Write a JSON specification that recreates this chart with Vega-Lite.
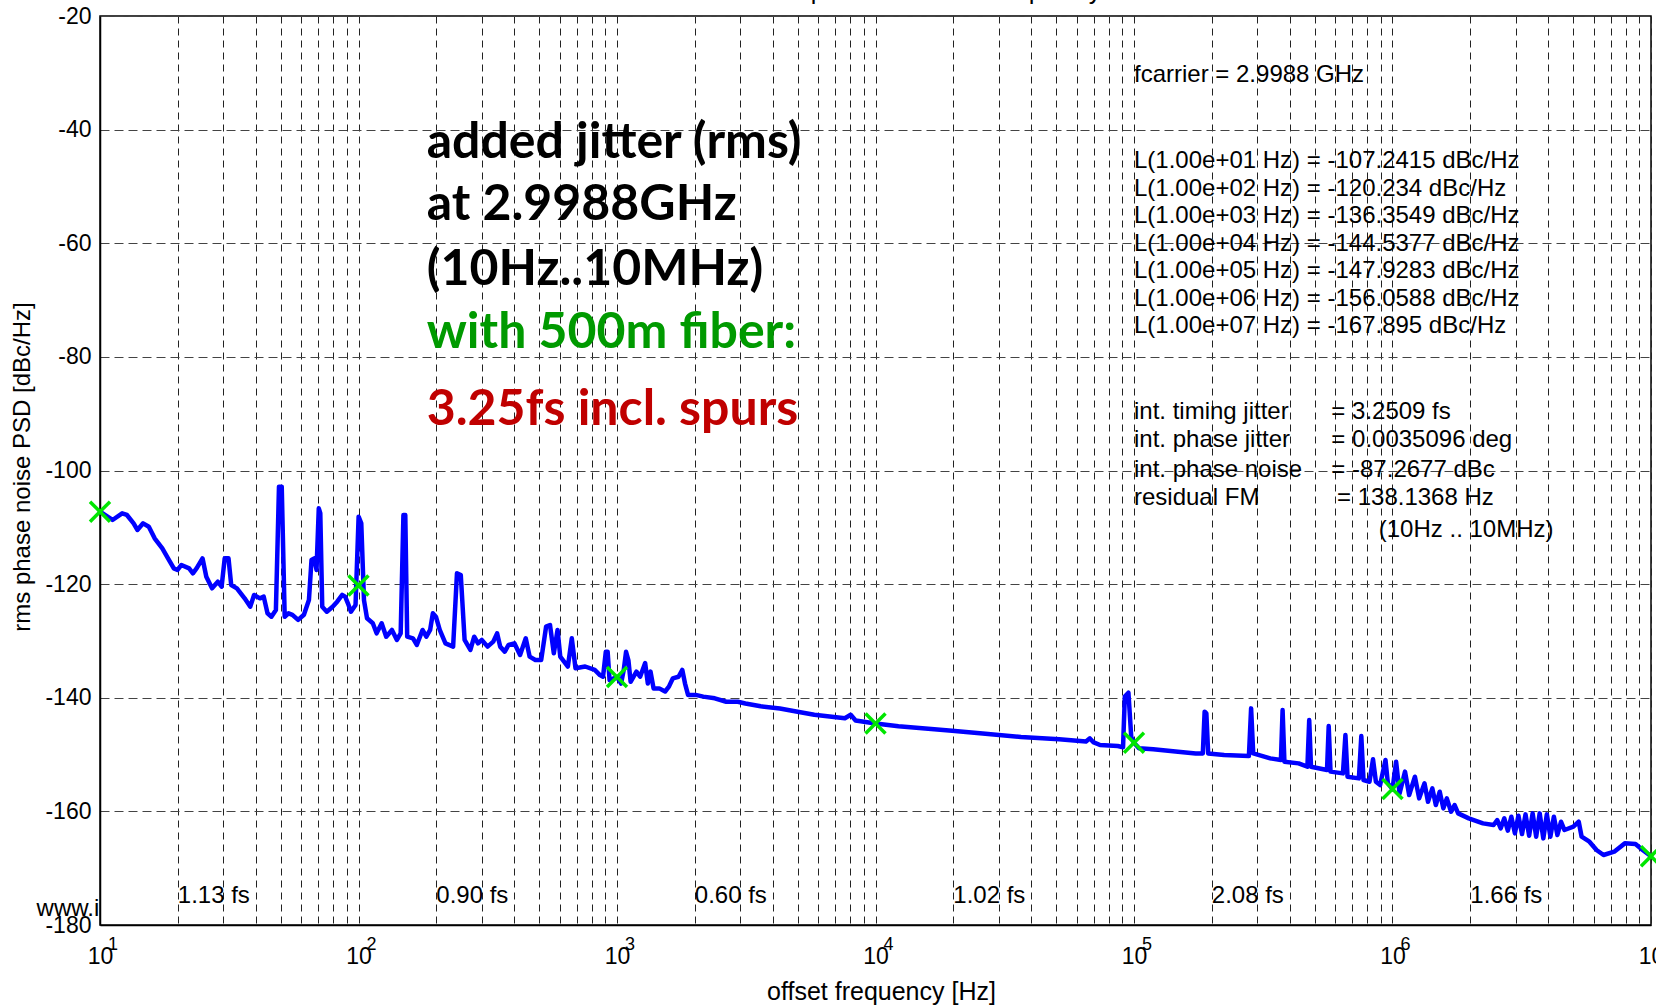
{
  "$schema": "https://vega.github.io/schema/vega-lite/v6.json",
  "width": 1551,
  "height": 909,
  "autosize": {"type": "none"},
  "padding": {"left": 100, "top": 16, "right": 5, "bottom": 80},
  "background": "white",
  "config": {"view": {"stroke": "black", "strokeWidth": 1.5}, "font": "Liberation Sans"},
  "datasets": {
    "curve": [
      {"f":10,"L":-107.24},{"f":11.18,"L":-108.71},{"f":12.18,"L":-107.54},{"f":12.71,"L":-107.83},{"f":13.49,"L":-109.3},{"f":13.95,"L":-110.47},{"f":14.68,"L":-109.3},{"f":15.45,"L":-109.9},{"f":16.27,"L":-111.94},{"f":17.42,"L":-113.7},{"f":18.33,"L":-115.46},{"f":19.3,"L":-117.22},{"f":19.95,"L":-117.51},{"f":20.65,"L":-116.63},{"f":22.12,"L":-117.22},{"f":22.88,"L":-118.1},{"f":23.67,"L":-117.2},{"f":24.92,"L":-115.46},{"f":25.78,"L":-118.69},{"f":27.13,"L":-120.74},{"f":28.56,"L":-119.57},{"f":29.54,"L":-120.45},{"f":30.37,"L":-115.46},{"f":31.41,"L":-115.46},{"f":32.18,"L":-120.15},{"f":33.85,"L":-120.74},{"f":36.26,"L":-122.5},{"f":38.14,"L":-123.97},{"f":39.45,"L":-121.91},{"f":41.56,"L":-122.5},{"f":42.99,"L":-122.2},{"f":44.46,"L":-125.14},{"f":46.03,"L":-125.73},{"f":47.91,"L":-124.55},{"f":49.25,"L":-102.84},{"f":50.47,"L":-102.84},{"f":51.82,"L":-125.73},{"f":53.65,"L":-125.14},{"f":55.5,"L":-125.4},{"f":58.4,"L":-126.3},{"f":61.5,"L":-125.4},{"f":64.3,"L":-122.8},{"f":65.8,"L":-115.75},{"f":67.4,"L":-115.46},{"f":68.8,"L":-117.5},{"f":70.2,"L":-106.66},{"f":71.15,"L":-107.5},{"f":72.4,"L":-123.97},{"f":75.4,"L":-124.85},{"f":79.4,"L":-123.97},{"f":82.7,"L":-123.09},{"f":86.5,"L":-121.9},{"f":88.8,"L":-122.2},{"f":91,"L":-123.38},{"f":93.5,"L":-124.85},{"f":97.4,"L":-123.67},{"f":100.1,"L":-108.12},{"f":102.5,"L":-109.3},{"f":105,"L":-122.8},{"f":107.9,"L":-126.02},{"f":113.6,"L":-126.9},{"f":117.5,"L":-128.66},{"f":122.9,"L":-126.9},{"f":128,"L":-129.25},{"f":134.7,"L":-128.07},{"f":140.8,"L":-129.83},{"f":145.6,"L":-128.66},{"f":149.2,"L":-107.83},{"f":151.7,"L":-107.83},{"f":154.3,"L":-129.25},{"f":162.5,"L":-129.54},{"f":168.1,"L":-130.71},{"f":176.9,"L":-128.07},{"f":183,"L":-129.25},{"f":189.3,"L":-128.07},{"f":193.9,"L":-125.14},{"f":199.3,"L":-125.73},{"f":206.2,"L":-128.07},{"f":217,"L":-130.42},{"f":232.3,"L":-131},{"f":240.4,"L":-118.1},{"f":248.7,"L":-118.4},{"f":257.3,"L":-129.83},{"f":270.9,"L":-131.59},{"f":280.3,"L":-129.25},{"f":290,"L":-130.42},{"f":299.9,"L":-129.83},{"f":315.8,"L":-131},{"f":332.2,"L":-130.13},{"f":343.7,"L":-128.66},{"f":353.2,"L":-131},{"f":368,"L":-131.89},{"f":380.7,"L":-130.71},{"f":400.9,"L":-130.42},{"f":421.7,"L":-132.47},{"f":443.6,"L":-129.54},{"f":459.3,"L":-132.77},{"f":483.3,"L":-133.35},{"f":509,"L":-133.35},{"f":531.8,"L":-127.49},{"f":550.6,"L":-127.19},{"f":569.5,"L":-132.18},{"f":589,"L":-128.07},{"f":603.3,"L":-132.77},{"f":645.6,"L":-134.5},{"f":668.5,"L":-129.54},{"f":691,"L":-134.8},{"f":753,"L":-134.5},{"f":820,"L":-135.1},{"f":859,"L":-136},{"f":883,"L":-136.3},{"f":905,"L":-131.9},{"f":920,"L":-131.9},{"f":936,"L":-136.9},{"f":1000,"L":-136.35},{"f":1037,"L":-137.5},{"f":1062,"L":-135.1},{"f":1084,"L":-131.9},{"f":1107,"L":-133.4},{"f":1129,"L":-137.2},{"f":1189,"L":-135.4},{"f":1229,"L":-136.3},{"f":1285,"L":-133.9},{"f":1316,"L":-137.5},{"f":1348,"L":-135.4},{"f":1385,"L":-138.35},{"f":1457,"L":-138.35},{"f":1535,"L":-138.9},{"f":1588,"L":-138.05},{"f":1643,"L":-136.6},{"f":1730,"L":-136.3},{"f":1789,"L":-135.1},{"f":1833,"L":-137.5},{"f":1883,"L":-139.5},{"f":2014,"L":-139.5},{"f":2157,"L":-139.8},{"f":2389,"L":-140.1},{"f":2647,"L":-140.7},{"f":2933,"L":-140.7},{"f":3138,"L":-141},{"f":3596,"L":-141.5},{"f":4267,"L":-141.9},{"f":5057,"L":-142.5},{"f":5798,"L":-143},{"f":6643,"L":-143.3},{"f":7613,"L":-143.6},{"f":8017,"L":-143},{"f":8375,"L":-144},{"f":10000,"L":-144.54},{"f":12274,"L":-145},{"f":15580,"L":-145.4},{"f":19780,"L":-145.8},{"f":25980,"L":-146.3},{"f":36550,"L":-146.9},{"f":51350,"L":-147.3},{"f":65210,"L":-147.7},{"f":67500,"L":-147.15},{"f":69500,"L":-147.8},{"f":73880,"L":-148.32},{"f":86500,"L":-148.5},{"f":90700,"L":-148.7},{"f":92150,"L":-139.8},{"f":95160,"L":-139.1},{"f":97560,"L":-146.9},{"f":100000,"L":-147.93},{"f":104500,"L":-148.9},{"f":118700,"L":-149.08},{"f":148000,"L":-149.5},{"f":173300,"L":-149.8},{"f":184600,"L":-149.8},{"f":187600,"L":-142.45},{"f":190500,"L":-142.75},{"f":193600,"L":-149.8},{"f":223200,"L":-150.08},{"f":278300,"L":-150.26},{"f":283800,"L":-141.87},{"f":289200,"L":-149.8},{"f":336500,"L":-150.67},{"f":370100,"L":-150.96},{"f":375700,"L":-142.16},{"f":381800,"L":-151.25},{"f":433400,"L":-151.55},{"f":468600,"L":-152.14},{"f":476200,"L":-143.92},{"f":483900,"L":-152.14},{"f":558000,"L":-152.72},{"f":566500,"L":-144.98},{"f":575700,"L":-153},{"f":643000,"L":-153.31},{"f":657500,"L":-146.56},{"f":669900,"L":-153.9},{"f":741300,"L":-154.19},{"f":757400,"L":-146.74},{"f":772300,"L":-154.48},{"f":814700,"L":-154.78},{"f":840600,"L":-150.84},{"f":862600,"L":-154.78},{"f":895400,"L":-155.36},{"f":939500,"L":-150.96},{"f":959800,"L":-155.07},{"f":1000000,"L":-156.06},{"f":1032700,"L":-151.25},{"f":1065000,"L":-156.83},{"f":1118000,"L":-153},{"f":1160000,"L":-157.12},{"f":1221000,"L":-153.9},{"f":1268000,"L":-157.71},{"f":1330000,"L":-155.07},{"f":1372000,"L":-158.3},{"f":1426000,"L":-155.95},{"f":1471000,"L":-158.88},{"f":1523000,"L":-156.54},{"f":1573000,"L":-159.47},{"f":1622000,"L":-157.71},{"f":1685000,"L":-160.06},{"f":1739000,"L":-158.88},{"f":1795000,"L":-160.35},{"f":1973000,"L":-161.23},{"f":2239000,"L":-162.11},{"f":2461000,"L":-162.4},{"f":2542000,"L":-161.52},{"f":2622000,"L":-162.99},{"f":2707000,"L":-161.23},{"f":2793000,"L":-163.4},{"f":2882000,"L":-160.94},{"f":2975000,"L":-163.87},{"f":3070000,"L":-160.76},{"f":3170000,"L":-163.99},{"f":3270000,"L":-160.53},{"f":3377000,"L":-164.28},{"f":3484000,"L":-160.35},{"f":3596000,"L":-164.46},{"f":3710000,"L":-160.35},{"f":3832000,"L":-164.75},{"f":3954000,"L":-160.53},{"f":4081000,"L":-164.46},{"f":4210000,"L":-160.94},{"f":4344000,"L":-164.16},{"f":4485000,"L":-161.82},{"f":4628000,"L":-163.28},{"f":5010000,"L":-162.7},{"f":5253000,"L":-161.82},{"f":5390000,"L":-164.46},{"f":5778000,"L":-165.34},{"f":6155000,"L":-166.8},{"f":6550000,"L":-167.68},{"f":7205000,"L":-167.1},{"f":7919000,"L":-165.63},{"f":8710000,"L":-165.75},{"f":9280000,"L":-166.8},{"f":10000000,"L":-167.895}
    ],
    "markers": [
      {"f":10,"L":-107.2415},{"f":100,"L":-120.234},{"f":1000,"L":-136.3549},{"f":10000,"L":-144.5377},{"f":100000,"L":-147.9283},{"f":1000000,"L":-156.0588},{"f":10000000,"L":-167.895}
    ],
    "bigBlack": [
      {"f":183.6,"L":-45.05,"t":"added jitter (rms)"},
      {"f":183.6,"L":-55.91,"t":"at 2.9988GHz"},
      {"f":183.6,"L":-67.35,"t":"(10Hz..10MHz)"}
    ],
    "bigGreen": [{"f":183.6,"L":-78.49,"t":"with 500m fiber:"}],
    "bigRed": [{"f":183.6,"L":-91.99,"t":"3.25fs incl. spurs"}],
    "notes": [
      {"f":100000,"L":-31.56,"t":"fcarrier = 2.9988 GHz"},
      {"f":100000,"L":-46.81,"t":"L(1.00e+01 Hz) = -107.2415 dBc/Hz"},
      {"f":100000,"L":-51.65,"t":"L(1.00e+02 Hz) = -120.234 dBc/Hz"},
      {"f":100000,"L":-56.49,"t":"L(1.00e+03 Hz) = -136.3549 dBc/Hz"},
      {"f":100000,"L":-61.33,"t":"L(1.00e+04 Hz) = -144.5377 dBc/Hz"},
      {"f":100000,"L":-66.17,"t":"L(1.00e+05 Hz) = -147.9283 dBc/Hz"},
      {"f":100000,"L":-71.01,"t":"L(1.00e+06 Hz) = -156.0588 dBc/Hz"},
      {"f":100000,"L":-75.85,"t":"L(1.00e+07 Hz) = -167.895 dBc/Hz"},
      {"f":100000,"L":-90.99,"t":"int. timing jitter"},
      {"f":100000,"L":-95.81,"t":"int. phase jitter"},
      {"f":100000,"L":-101.09,"t":"int. phase noise"},
      {"f":100000,"L":-106.07,"t":"residual FM"},
      {"f":580000,"L":-90.99,"t":"= 3.2509 fs"},
      {"f":580000,"L":-95.81,"t":"= 0.0035096 deg"},
      {"f":580000,"L":-101.09,"t":"= -87.2677 dBc"},
      {"f":610000,"L":-106.07,"t":"= 138.1368 Hz"},
      {"f":885000,"L":-111.65,"t":"(10Hz .. 10MHz)"},
      {"f":20,"L":-176.18,"t":"1.13 fs"},
      {"f":200,"L":-176.18,"t":"0.90 fs"},
      {"f":2000,"L":-176.18,"t":"0.60 fs"},
      {"f":20000,"L":-176.18,"t":"1.02 fs"},
      {"f":200000,"L":-176.18,"t":"2.08 fs"},
      {"f":2000000,"L":-176.18,"t":"1.66 fs"},
      {"f":5.685,"L":-178.4,"t":"www.i"}
    ],
    "exponents": [
      {"f":10,"L":-184.4,"t":"1"},{"f":100,"L":-184.4,"t":"2"},{"f":1000,"L":-184.4,"t":"3"},{"f":10000,"L":-184.4,"t":"4"},{"f":100000,"L":-184.4,"t":"5"},{"f":1000000,"L":-184.4,"t":"6"},{"f":10000000,"L":-184.4,"t":"7"}
    ],
    "title": [{"f":20470,"L":-17.0,"t":"phase noise vs. frequency"}]
  },
  "encoding": {
    "x": {
      "field": "f", "type": "quantitative",
      "scale": {"type": "log", "domain": [10, 10000000], "nice": false},
      "axis": {
        "title": "offset frequency [Hz]",
        "titleFont": "Liberation Sans", "titleFontSize": 25, "titleFontWeight": "normal", "titleColor": "black",
        "titleX": 781, "titleY": 66, "titleBaseline": "middle", "titleAlign": "center",
        "values": [10,20,30,40,50,60,70,80,90,100,200,300,400,500,600,700,800,900,1000,2000,3000,4000,5000,6000,7000,8000,9000,10000,20000,30000,40000,50000,60000,70000,80000,90000,100000,200000,300000,400000,500000,600000,700000,800000,900000,1000000,2000000,3000000,4000000,5000000,6000000,7000000,8000000,9000000,10000000],
        "labelExpr": "abs(log(datum.value)/LN10 - round(log(datum.value)/LN10)) < 0.000001 ? '10' : ''",
        "labelFont": "Liberation Sans", "labelFontSize": 23, "labelColor": "black",
        "labelPadding": 31, "labelBaseline": "middle", "labelDx": -5,
        "labelOverlap": false, "labelFlush": false, "labelBound": false,
        "ticks": false,
        "domainColor": "black", "domainWidth": 1.5,
        "grid": true, "gridColor": "#222222", "gridDash": [7, 5], "gridWidth": 1, "gridOpacity": 1
      }
    },
    "y": {
      "field": "L", "type": "quantitative",
      "scale": {"domain": [-180, -20], "nice": false, "zero": false},
      "axis": {
        "title": "rms phase noise PSD [dBc/Hz]",
        "titleFont": "Liberation Sans", "titleFontSize": 24, "titleFontWeight": "normal", "titleColor": "black",
        "titleX": -78, "titleY": 450.5, "titleAngle": -90, "titleBaseline": "middle", "titleAlign": "center",
        "values": [-180,-160,-140,-120,-100,-80,-60,-40,-20],
        "labelExpr": "'' + datum.value",
        "labelFont": "Liberation Sans", "labelFontSize": 23, "labelColor": "black", "labelPadding": 9,
        "labelOverlap": false, "labelFlush": false, "labelBound": false,
        "ticks": false,
        "domainColor": "black", "domainWidth": 1.5,
        "grid": true, "gridColor": "#444444", "gridDash": [9, 5], "gridWidth": 1, "gridOpacity": 1
      }
    }
  },
  "layer": [
    {
      "data": {"name": "curve"},
      "mark": {"type": "line", "color": "#0000FF", "strokeWidth": 4.5, "strokeJoin": "round", "strokeCap": "round"},
      "encoding": {}
    },
    {
      "data": {"name": "markers"},
      "mark": {"type": "point", "shape": "M-1,-1L1,1M-1,1L1,-1", "size": 400, "filled": false, "color": "#00E600", "strokeWidth": 3.5, "opacity": 1}
    },
    {
      "data": {"name": "bigBlack"},
      "mark": {"type": "text", "font": "Lato", "fontWeight": "bold", "fontSize": 50, "align": "left", "baseline": "alphabetic", "color": "black"},
      "encoding": {"text": {"field": "t"}}
    },
    {
      "data": {"name": "bigGreen"},
      "mark": {"type": "text", "font": "Lato", "fontWeight": "bold", "fontSize": 50, "align": "left", "baseline": "alphabetic", "color": "#009A00"},
      "encoding": {"text": {"field": "t"}}
    },
    {
      "data": {"name": "bigRed"},
      "mark": {"type": "text", "font": "Lato", "fontWeight": "bold", "fontSize": 50, "align": "left", "baseline": "alphabetic", "color": "#C00000"},
      "encoding": {"text": {"field": "t"}}
    },
    {
      "data": {"name": "notes"},
      "mark": {"type": "text", "font": "Liberation Sans", "fontSize": 24, "align": "left", "baseline": "alphabetic", "color": "black"},
      "encoding": {"text": {"field": "t"}}
    },
    {
      "data": {"name": "exponents"},
      "mark": {"type": "text", "font": "Liberation Sans", "fontSize": 18, "align": "left", "baseline": "alphabetic", "dx": 8, "color": "black"},
      "encoding": {"text": {"field": "t"}}
    },
    {
      "data": {"name": "title"},
      "mark": {"type": "text", "font": "Liberation Sans", "fontSize": 25, "align": "center", "baseline": "alphabetic", "color": "black"},
      "encoding": {"text": {"field": "t"}}
    }
  ]
}
